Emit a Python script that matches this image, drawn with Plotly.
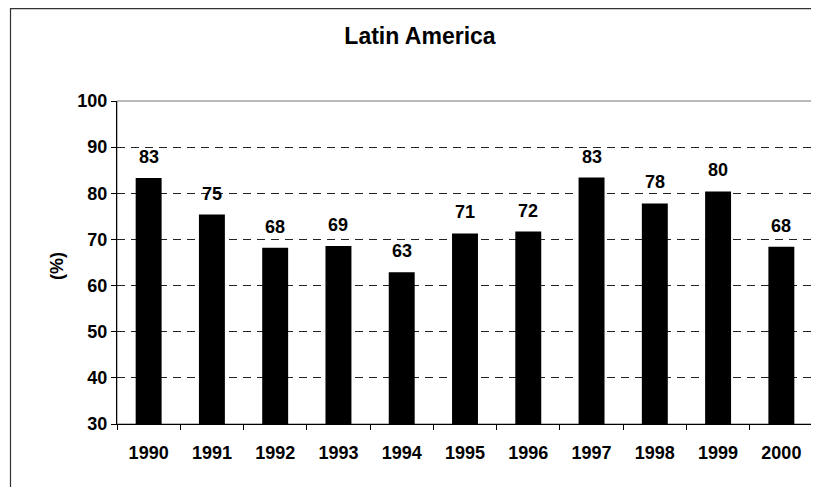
import plotly.graph_objects as go

years = ["1990", "1991", "1992", "1993", "1994", "1995", "1996", "1997", "1998", "1999", "2000"]
values = [83.3, 75.4, 68.2, 68.6, 62.9, 71.3, 71.7, 83.4, 77.8, 80.4, 68.4]
labels = ["83", "75", "68", "69", "63", "71", "72", "83", "78", "80", "68"]

# page has an 8px body margin; work in figure pixel coordinates = page - 8
OFF = 8
W, H = 819 - OFF, 487 - OFF
L, T = 117 - OFF, 101 - OFF
PR, PB = 813 - OFF, 424 - OFF
R, B = W - PR, H - PB
pw = W - L - R
ph = H - T - B

def px_x(x):
    return (x - OFF - L) / pw

def px_y(y):
    return (H - B - (y - OFF)) / ph

font = "Liberation Sans, Arial, sans-serif"

fig = go.Figure()
fig.add_trace(go.Bar(x=years, y=values, marker=dict(color="black", line=dict(width=0)),
                     width=0.41, hoverinfo="x+y"))

for i, (v, lab) in enumerate(zip(values, labels)):
    fig.add_annotation(x=i, y=v, xref="x", yref="y", text=lab, showarrow=False, yanchor="bottom",
                       yshift=9, font=dict(family=font, size=18, color="black", weight="bold"))

fig.add_annotation(x=px_x(45), y=px_y(266), xref="paper", yref="paper", text="(%)", textangle=-90,
                   showarrow=False, font=dict(family=font, size=18, color="black", weight="bold"))

# outer chart border
fig.add_shape(type="rect", xref="paper", yref="paper", x0=px_x(10.5), x1=px_x(840),
              y0=px_y(505), y1=px_y(8.7), line=dict(color="#333333", width=1.2), layer="below")
# plot area border (top/right)
fig.add_shape(type="rect", xref="paper", yref="paper", x0=0, x1=1, y0=0, y1=1,
              line=dict(color="#777777", width=1), layer="below")

fig.update_layout(
    width=W, height=H,
    margin=dict(l=L, r=R, t=T, b=B),
    paper_bgcolor="white", plot_bgcolor="white",
    showlegend=False,
    title=dict(text="Latin America", xref="container", yref="container",
               x=(420 - OFF) / W, xanchor="center", y=1 - (36 - OFF) / H, yanchor="middle",
               font=dict(family=font, size=23, color="black", weight="bold")),
    bargap=0.59,
    xaxis=dict(type="category", range=[-0.5, len(years) - 0.5], autorange=False,
               showline=True, linecolor="black", linewidth=1, tickangle=0,
               ticks="outside", tickson="boundaries", ticklen=5, tickcolor="black",
               ticklabelstandoff=12, showgrid=False,
               tickfont=dict(family=font, size=18, color="black", weight="bold")),
    yaxis=dict(range=[30, 100], autorange=False, dtick=10, showline=True, linecolor="black", linewidth=1,
               ticks="outside", ticklen=5, tickcolor="black",
               showgrid=True, gridcolor="#222222", griddash="8px,6px", gridwidth=1,
               zeroline=False,
               tickfont=dict(family=font, size=18, color="black", weight="bold")),
)

fig.write_html("out.html")
